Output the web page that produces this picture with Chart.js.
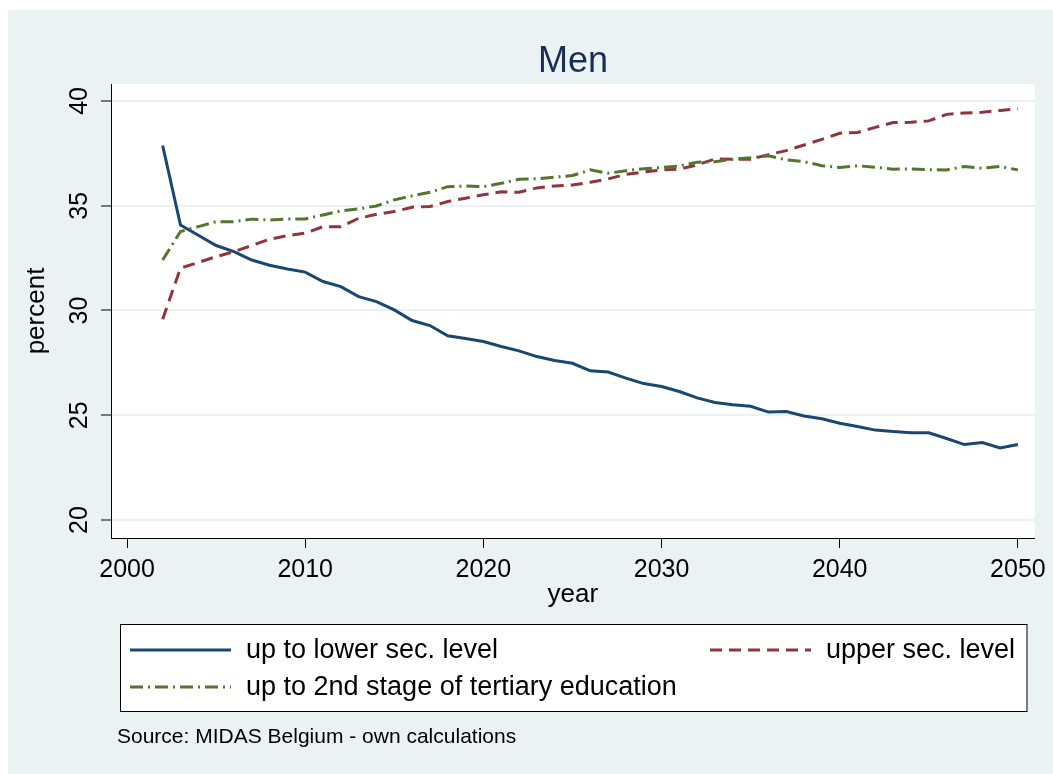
<!DOCTYPE html>
<html><head><meta charset="utf-8">
<script src="https://cdn.jsdelivr.net/npm/chart.js@4"></script>
<style>html,body{margin:0;padding:0;background:#fff;}canvas{display:block;}</style>
</head><body>
<canvas id="c" width="1053" height="774"></canvas>
<script>
const years = [2002,2003,2004,2005,2006,2007,2008,2009,2010,2011,2012,2013,2014,2015,2016,2017,
  2018,2019,2020,2021,2022,2023,2024,2025,2026,2027,2028,2029,2030,2031,2032,2033,2034,
  2035,2036,2037,2038,2039,2040,2041,2042,2043,2044,2045,2046,2047,2048,2049,2050];
const lowerSec = [37.87,34.08,33.59,33.10,32.81,32.41,32.16,31.98,31.83,31.38,31.14,30.66,30.42,30.03,29.52,29.28,
  28.79,28.66,28.52,28.28,28.07,27.80,27.61,27.48,27.12,27.06,26.77,26.51,26.37,26.13,25.83,25.61,25.50,
  25.43,25.15,25.18,24.96,24.83,24.62,24.46,24.29,24.22,24.16,24.16,23.89,23.60,23.70,23.44,23.60];
const upperSec = [29.58,32.02,32.29,32.57,32.81,33.10,33.40,33.57,33.69,34.00,34.00,34.40,34.59,34.72,34.93,34.96,
  35.20,35.36,35.52,35.67,35.64,35.85,35.94,35.99,36.12,36.28,36.50,36.61,36.71,36.74,36.95,37.23,37.22,
  37.22,37.44,37.63,37.90,38.17,38.46,38.50,38.74,38.97,38.98,39.05,39.36,39.43,39.46,39.55,39.62];
const tertiary = [32.41,33.77,34.00,34.24,34.24,34.36,34.32,34.37,34.37,34.56,34.75,34.85,34.99,35.28,35.47,35.64,
  35.91,35.94,35.91,36.07,36.26,36.29,36.36,36.44,36.71,36.55,36.67,36.77,36.82,36.90,37.08,37.10,37.22,
  37.29,37.38,37.19,37.10,36.91,36.83,36.91,36.83,36.74,36.76,36.72,36.71,36.87,36.79,36.87,36.71];
const xTicks = [2000,2010,2020,2030,2040,2050];
const yTicks = [20,25,30,35,40];
const seriesLabels = ['up to lower sec. level','upper sec. level','up to 2nd stage of tertiary education'];
const titleText = 'Men';
const xTitle = 'year';
const yTitle = 'percent';
const sourceText = 'Source: MIDAS Belgium - own calculations';

const BG = '#EAF2F3';
const COLORS = ['#1A476F','#90353B','#55752F'];
const DASHES = [[], [12,7], [13,5,2,5]];
const FONT = "'Liberation Sans', Arial, Helvetica, sans-serif";

const seriesValues = [lowerSec, upperSec, tertiary];
const datasets = seriesValues.map((vals, i) => ({
  label: seriesLabels[i],
  data: years.map((yr, j) => ({x: yr, y: vals[j]})),
  borderColor: COLORS[i],
  backgroundColor: COLORS[i],
  borderDash: DASHES[i],
  borderWidth: 3,
  pointRadius: 0,
  tension: 0,
  fill: false,
  order: 2 - i
}));

const decor = {
  id: 'decor',
  beforeDraw(chart) {
    const ctx = chart.ctx, a = chart.chartArea;
    ctx.save();
    ctx.fillStyle = '#fff';
    ctx.fillRect(0, 0, chart.width, chart.height);
    ctx.fillStyle = BG;
    ctx.fillRect(8, 10, chart.width - 8, chart.height - 10);
    ctx.fillStyle = '#fff';
    ctx.fillRect(a.left, a.top, a.right - a.left, a.bottom - a.top);
    ctx.restore();
  },
  afterDraw(chart) {
    const ctx = chart.ctx, a = chart.chartArea;
    ctx.save();
    // title
    ctx.fillStyle = '#1c2d54';
    ctx.font = '36px ' + FONT;
    ctx.textAlign = 'center';
    ctx.textBaseline = 'alphabetic';
    ctx.fillText(titleText, (a.left + a.right) / 2, 72);
    // rotated y tick labels
    const ys = chart.scales.y;
    ctx.fillStyle = '#000';
    ctx.font = '25px ' + FONT;
    yTicks.forEach(v => {
      const py = ys.getPixelForValue(v);
      ctx.save();
      ctx.translate(80, py);
      ctx.rotate(-Math.PI / 2);
      ctx.textAlign = 'center';
      ctx.textBaseline = 'middle';
      ctx.fillText(String(v), 0, 0);
      ctx.restore();
    });
    // legend
    ctx.fillStyle = '#fff';
    ctx.fillRect(120.5, 624.5, 906.5, 87);
    ctx.strokeStyle = '#000';
    ctx.lineWidth = 1;
    ctx.strokeRect(120.5, 624.5, 906.5, 87);
    const pos = [[130, 650], [710, 650], [130, 687]];
    chart.data.datasets.forEach((ds, i) => {
      const [lx, ly] = pos[i];
      ctx.save();
      ctx.strokeStyle = ds.borderColor;
      ctx.lineWidth = 3;
      ctx.setLineDash(ds.borderDash);
      ctx.beginPath();
      ctx.moveTo(lx, ly);
      ctx.lineTo(lx + 101, ly);
      ctx.stroke();
      ctx.restore();
      ctx.fillStyle = '#000';
      ctx.font = '27px ' + FONT;
      ctx.textAlign = 'left';
      ctx.textBaseline = 'middle';
      ctx.fillText(ds.label, lx + 116, ly + 1);
    });
    // source note
    ctx.font = '21px ' + FONT;
    ctx.textAlign = 'left';
    ctx.textBaseline = 'alphabetic';
    ctx.fillText(sourceText, 117, 743);
    ctx.restore();
  }
};

new Chart(document.getElementById('c'), {
  type: 'line',
  data: { datasets },
  plugins: [decor],
  options: {
    responsive: false,
    animation: false,
    devicePixelRatio: 1,
    layout: { padding: { left: 0, top: 84, right: 17, bottom: 156 } },
    plugins: { legend: { display: false }, tooltip: { enabled: false }, title: { display: false } },
    scales: {
      x: {
        type: 'linear', min: 1999.1, max: 2050.95,
        afterBuildTicks: s => { s.ticks = xTicks.map(v => ({ value: v })); },
        afterFit: s => { s.height = 80; },
        grid: { drawOnChartArea: false, drawTicks: true, tickLength: 10, tickColor: '#000', tickWidth: 1 },
        border: { display: true, color: '#000', width: 1 },
        ticks: { color: '#000', font: { family: FONT, size: 25 }, padding: 7, maxRotation: 0, minRotation: 0, autoSkip: false, callback: v => String(v) },
        title: { display: true, text: xTitle, color: '#000', font: { family: FONT, size: 26 }, padding: { top: 0, bottom: 8 } }
      },
      y: {
        type: 'linear', min: 19.14, max: 40.81,
        afterBuildTicks: s => { s.ticks = yTicks.map(v => ({ value: v })); },
        afterFit: s => { s.width = 111; },
        grid: { color: BG, lineWidth: 2, drawTicks: true, tickLength: 10, tickColor: '#000', tickWidth: 1 },
        border: { display: true, color: '#000', width: 1 },
        ticks: { display: false },
        title: { display: true, text: yTitle, color: '#000', font: { family: FONT, size: 26 }, padding: { top: 21, bottom: 0 } }
      }
    }
  }
});
</script>
</body></html>
